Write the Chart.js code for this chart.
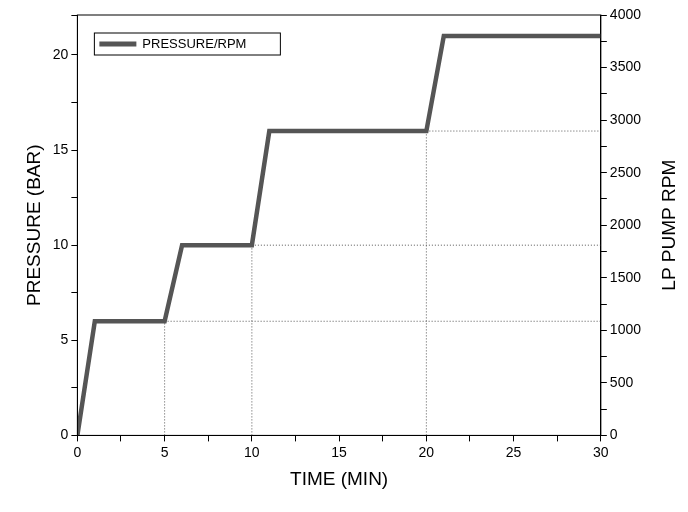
<!DOCTYPE html>
<html><head><script src="https://cdn.jsdelivr.net/npm/chart.js@4"></script>
<style>body{margin:0;background:#fff}#w{width:688px;height:512px}</style></head>
<body><div id="w"><canvas id="c"></canvas></div>
<script>
const timeMin=[0,1,5,6,10,11,20,21,30];
const pressureBar=[0,6,6,10,10,16,16,21,21];
const guideV1=[{x:5,y:0},{x:5,y:6}], guideH1=[{x:5,y:6},{x:30,y:6}];
const guideV2=[{x:10,y:0},{x:10,y:10}], guideH2=[{x:10,y:10},{x:30,y:10}];
const guideV3=[{x:20,y:0},{x:20,y:16}], guideH3=[{x:20,y:16},{x:30,y:16}];
const seriesLabel='PRESSURE/RPM';
const rightTitle='LP PUMP RPM';
const F='Arial, "Liberation Sans", sans-serif';
const guide=d=>({data:d,borderColor:'#555',borderWidth:1,borderDash:[1,2],pointRadius:0,yAxisID:'y',label:'_g'});
const legendPlugin={id:'lg',afterDraw(ch){const c=ch.ctx,a=ch.chartArea;c.save();
 const x=a.left+17,y=a.top+18;c.strokeStyle='#000';c.lineWidth=1;c.strokeRect(x,y,186,22);
 c.strokeStyle='#555';c.lineWidth=5;c.beginPath();c.moveTo(x+5,y+11);c.lineTo(x+42,y+11);c.stroke();
 c.fillStyle='#000';c.font='13px '+F;c.textBaseline='middle';c.fillText(seriesLabel,x+48,y+11.5);
 c.strokeStyle='#000';c.lineWidth=1;c.strokeRect(a.left,a.top,a.right-a.left,a.bottom-a.top);
 c.translate(670,(a.top+a.bottom)/2);c.rotate(-Math.PI/2);c.font='19px '+F;c.textAlign='center';c.textBaseline='middle';c.fillText(rightTitle,0,0);
 c.restore();}};
new Chart(document.getElementById('c'),{type:'line',
data:{datasets:[
 {label:seriesLabel,data:timeMin.map((t,i)=>({x:t,y:pressureBar[i]})),borderColor:'#555',borderWidth:4.5,pointRadius:0,yAxisID:'y',tension:0},
 guide(guideV1),guide(guideH1),guide(guideV2),guide(guideH2),guide(guideV3),guide(guideH3)]},
options:{responsive:true,maintainAspectRatio:false,animation:false,
 layout:{padding:{top:15,right:44,left:19,bottom:17}},
 plugins:{legend:{display:false},tooltip:{enabled:false}},
 scales:{
  x:{type:'linear',min:0,max:30,border:{color:'#000',width:1},
   grid:{drawOnChartArea:false,color:'#000',tickLength:6},
   ticks:{stepSize:2.5,color:'#000',font:{size:14,family:F},maxRotation:0,callback:v=>v%5===0?v:''},
   title:{display:true,text:'TIME (MIN)',color:'#000',font:{size:19,family:F}}},
  y:{min:0,max:22.1,position:'left',border:{color:'#000',width:1},
   grid:{drawOnChartArea:false,color:'#000',tickLength:6},
   ticks:{stepSize:2.5,color:'#000',font:{size:14,family:F},callback:v=>v%5===0?v:''},
   title:{display:true,text:'PRESSURE (BAR)',color:'#000',font:{size:19,family:F}}},
  y2:{min:0,max:4000,position:'right',border:{color:'#000',width:1},
   grid:{drawOnChartArea:false,color:'#000',tickLength:6},
   ticks:{stepSize:250,color:'#000',font:{size:14,family:F},callback:v=>v%500===0?v:''},
   title:{display:false}}
 }},plugins:[legendPlugin]});
</script></body></html>
